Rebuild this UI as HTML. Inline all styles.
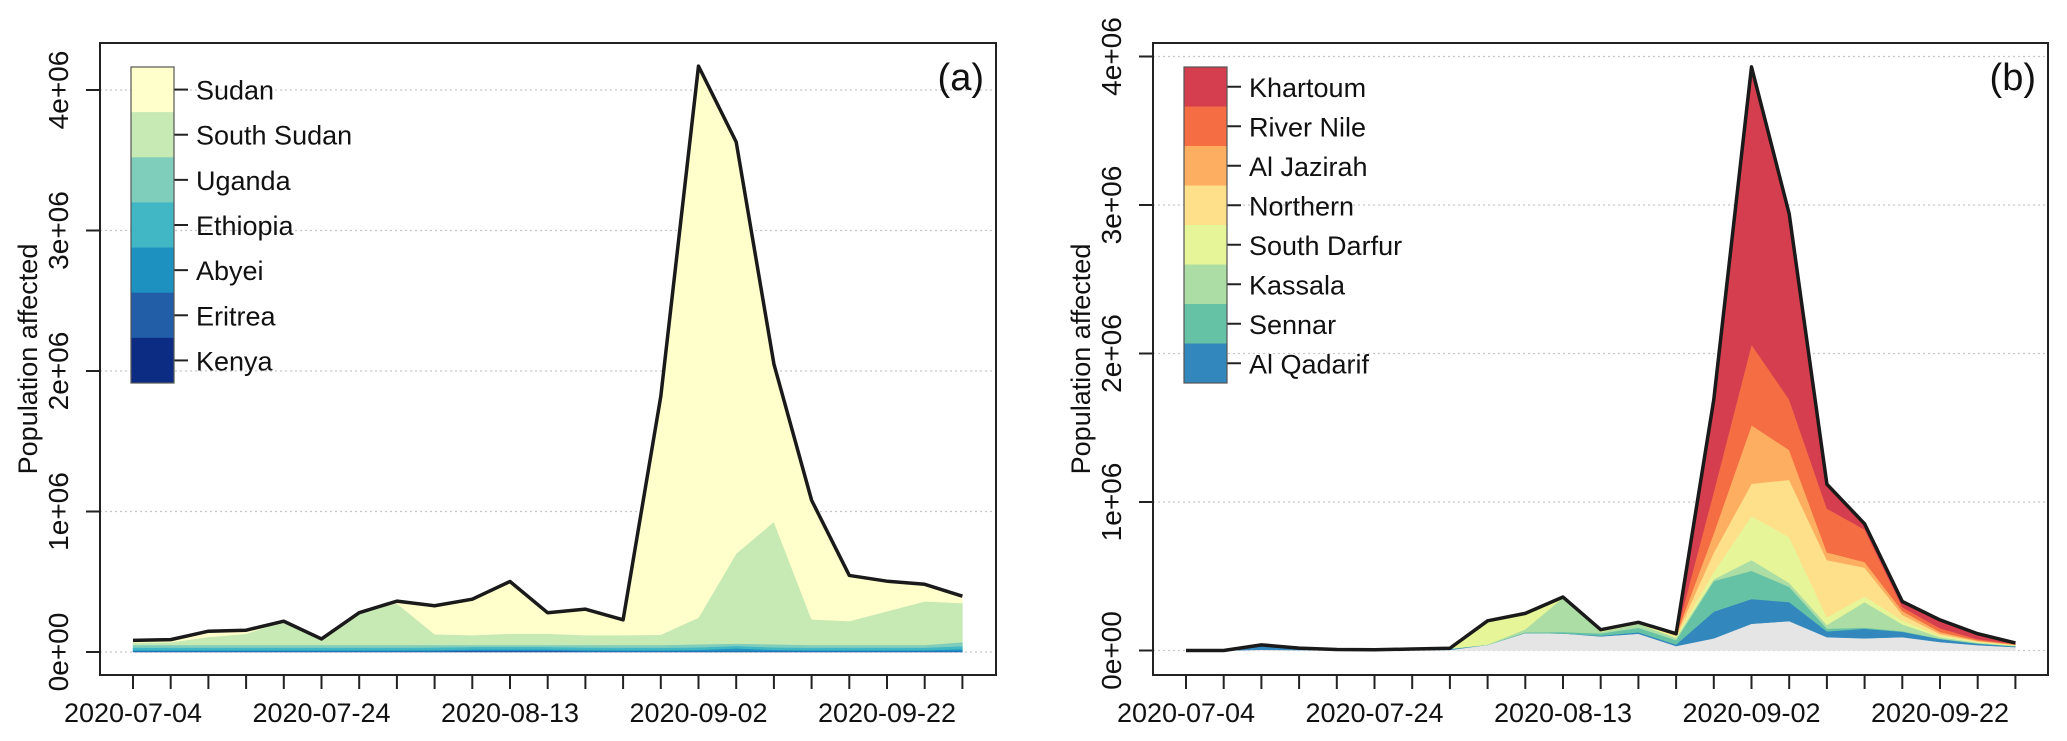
<!DOCTYPE html>
<html><head><meta charset="utf-8">
<style>
html,body{margin:0;padding:0;background:#fff;}
svg{display:block;font-family:"Liberation Sans",Arial,sans-serif;}
</style></head>
<body>
<svg id="chart" width="2067" height="741" viewBox="0 0 2067 741" xmlns="http://www.w3.org/2000/svg"></svg>
<script>
// ---- shared data ----
const dates = ["2020-07-04","2020-07-08","2020-07-12","2020-07-16","2020-07-20","2020-07-24","2020-07-28","2020-08-01","2020-08-05","2020-08-09","2020-08-13","2020-08-17","2020-08-21","2020-08-25","2020-08-29","2020-09-02","2020-09-06","2020-09-10","2020-09-14","2020-09-18","2020-09-22","2020-09-26","2020-09-30"];
const xTickLabels = ["2020-07-04","2020-07-24","2020-08-13","2020-09-02","2020-09-22"];
const yTickValues = [0,1000,2000,3000,4000];
const yTickLabels = ["0e+00","1e+06","2e+06","3e+06","4e+06"];

// ---- panel (a): values in thousands ----
const aNames = ["Kenya","Eritrea","Abyei","Ethiopia","Uganda","South Sudan","Sudan"];
const aColors = ["#0c2c84","#225ea8","#1d91c0","#41b6c4","#7fcdbb","#c7e9b4","#ffffcc"];
const aKenya    = [2,2,2,2,2,2,2,2,2,2,2,2,2,2,2,2,2,2,2,2,2,2,2];
const aEritrea  = [3,3,3,3,3,3,3,3,4,8,8,8,4,3,3,3,4,3,3,3,3,3,3];
const aAbyei    = [8,8,8,8,8,8,8,8,8,8,8,8,8,8,8,10,20,10,8,8,8,8,15];
const aEthiopia = [18,18,18,18,18,18,18,18,18,18,18,18,18,18,18,18,18,18,18,18,18,18,22];
const aUganda   = [19,19,19,19,19,19,19,19,18,14,14,14,18,19,19,22,16,22,19,19,19,19,28];
const aSouthSudan=[17,20,57,80,169,43,230,295,76,70,80,80,70,70,73,190,640,871,182,170,240,310,278];
const aSudan    = [16,18,41,25,0,0,0,17,203,256,372,149,185,109,1697,3925,2930,1124,848,325,214,122,49];

// ---- panel (b): values in thousands ----
const bNames = ["Other","Al Qadarif","Sennar","Kassala","South Darfur","Northern","Al Jazirah","River Nile","Khartoum"];
const bColors = ["#e5e5e5","#3288bd","#66c2a5","#abdda4","#e6f598","#fee08b","#fdae61","#f46d43","#d53e4f"];
const bOther    = [0,0,5,3,2,2,3,4,38,118,115,95,113,30,82,180,198,90,82,90,57,36,23];
const bQadarif  = [0,0,30,8,3,2,3,5,0,0,0,5,10,10,180,167,128,39,65,36,20,10,5];
const bSennar   = [0,0,3,2,1,1,2,3,0,5,10,15,30,30,206,190,103,18,7,4,3,2,2];
const bKassala  = [0,0,0,1,1,0,1,1,2,20,230,10,26,15,12,72,26,25,172,46,10,5,2];
const bSDarfur  = [0,0,0,1,0,0,1,2,160,105,5,5,5,10,50,296,308,52,39,26,10,5,3];
const bNorthern = [0,0,0,1,0,0,0,0,0,2,0,2,2,5,130,218,386,385,193,38,12,5,3];
const bJazirah  = [0,0,0,0,0,0,0,0,0,0,0,3,2,5,130,394,201,52,38,26,13,5,3];
const bRiverNile= [0,0,0,0,0,0,0,0,0,0,0,3,2,3,280,543,340,295,219,26,25,8,3];
const bKhartoum = [0,0,0,0,0,0,0,0,0,0,0,2,0,5,620,1870,1250,164,38,38,56,37,7];

const NS = "http://www.w3.org/2000/svg";
const svg = document.getElementById("chart");
function mk(tag, attrs, parent, text){
  const e = document.createElementNS(NS, tag);
  for (const k in attrs) e.setAttribute(k, attrs[k]);
  if (text !== undefined) e.textContent = text;
  (parent || svg).appendChild(e);
  return e;
}

function drawPanel(cfg){
  const g = mk("g", {});
  
  
  const X = i => cfg.x0 + cfg.dx * i;
  const Y = v => cfg.y0 - v * cfg.ky;
  yTickValues.forEach(v => {
    const l = mk("line", {x1:cfg.left, x2:cfg.right, y1:Y(v), y2:Y(v), stroke:"#c8c8c8", "stroke-width":1.3, "stroke-dasharray":"2,3"}, g);
    
    
  });
  const n = dates.length;
  let base = new Array(n).fill(0);
  cfg.series.forEach((s, si) => {
    const top = base.map((b, i) => b + s[i]);
    let d = "M" + X(0) + "," + Y(top[0]);
    for (let i = 1; i < n; i++) d += " L" + X(i) + "," + Y(top[i]);
    for (let i = n - 1; i >= 0; i--) d += " L" + X(i) + "," + Y(base[i]);
    d += " Z";
    const p = mk("path", {d: d, fill: cfg.colors[si], stroke: cfg.colors[si], "stroke-width":0.5}, g);
    
    
    base = top;
  });
  let d = "";
  for (let i = 0; i < n; i++) d += (i ? " L" : "M") + X(i) + "," + Y(base[i]);
  const tl = mk("path", {d: d, fill:"none", stroke:"#1a1a1a", "stroke-width":3.5, "stroke-linejoin":"round"}, g);
  
  
  const bx = mk("rect", {x:cfg.left, y:43, width:cfg.right-cfg.left, height:632, fill:"none", stroke:"#222", "stroke-width":2}, g);
  
  
  for (let i = 0; i < n; i++) {
    const t = mk("line", {x1:X(i), x2:X(i), y1:675, y2:689, stroke:"#222", "stroke-width":2}, g);
    
    
    const li = xTickLabels.indexOf(dates[i]);
    if (li >= 0) {
      const tx = mk("text", {x:X(i), y:722, "font-size":27, "text-anchor":"middle", fill:"#111"}, g, xTickLabels[li]);
      
      
    }
  }
  yTickValues.forEach((v, k) => {
    const t = mk("line", {x1:cfg.left-14, x2:cfg.left, y1:Y(v), y2:Y(v), stroke:"#222", "stroke-width":2}, g);
    
    
    const tx = mk("text", {x:0, y:0, "font-size":28, "text-anchor":"middle", fill:"#111",
      transform:"translate(" + (cfg.left-32) + "," + Y(v) + ") rotate(-90)"}, g, yTickLabels[k]);
    
    
  });
  const yt = mk("text", {x:0, y:0, "font-size":27, "text-anchor":"middle", fill:"#111",
    transform:"translate(" + (cfg.left-63) + ",359) rotate(-90)"}, g, "Population affected");
  
  
  const pt = mk("text", {x:cfg.right-12, y:90, "font-size":38, "text-anchor":"end", fill:"#111"}, g, cfg.tag);
  
  
  const lg = mk("g", {}, g);
  
  
  const m = cfg.legendNames.length;
  const step = (383 - 67) / m;
  cfg.legendNames.forEach((nm, k) => {
    const y = 67 + step * k;
    const r = mk("rect", {x:cfg.lx, y:y, width:43, height:step+0.5, fill:cfg.legendColors[k]}, lg);
    
    
    const t = mk("line", {x1:cfg.lx+43, x2:cfg.lx+57, y1:y+step/2, y2:y+step/2, stroke:"#222", "stroke-width":2}, lg);
    
    
    const tx = mk("text", {x:cfg.lx+65, y:y+step/2+10, "font-size":27, fill:"#111"}, lg, nm);
    
    
  });
  const lb = mk("rect", {x:cfg.lx, y:67, width:43, height:316, fill:"none", stroke:"#555", "stroke-width":1.2}, lg);
  
  
}

drawPanel({
  id:"a", tag:"(a)", left:100, right:996, x0:133, dx:37.7, y0:652, ky:0.1405, lx:131,
  series:[aKenya,aEritrea,aAbyei,aEthiopia,aUganda,aSouthSudan,aSudan],
  names:aNames, colors:aColors,
  legendNames:["Sudan","South Sudan","Uganda","Ethiopia","Abyei","Eritrea","Kenya"],
  legendColors:["#ffffcc","#c7e9b4","#7fcdbb","#41b6c4","#1d91c0","#225ea8","#0c2c84"]
});
drawPanel({
  id:"b", tag:"(b)", left:1153, right:2048, x0:1186, dx:37.7, y0:650.5, ky:0.1485, lx:1184,
  series:[bOther,bQadarif,bSennar,bKassala,bSDarfur,bNorthern,bJazirah,bRiverNile,bKhartoum],
  names:bNames, colors:bColors,
  legendNames:["Khartoum","River Nile","Al Jazirah","Northern","South Darfur","Kassala","Sennar","Al Qadarif"],
  legendColors:["#d53e4f","#f46d43","#fdae61","#fee08b","#e6f598","#abdda4","#66c2a5","#3288bd"]
});
</script>
</body></html>
